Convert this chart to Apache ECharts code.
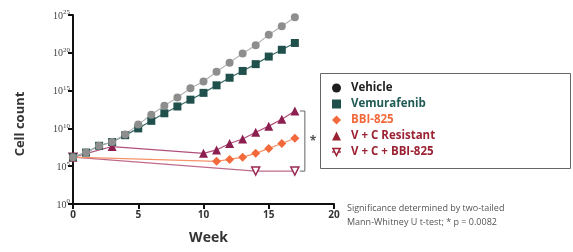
<!DOCTYPE html>
<html>
<head>
<meta charset="utf-8">
<script src="https://cdn.jsdelivr.net/npm/echarts@6/dist/echarts.min.js"></script>
<style>
  html, body { margin: 0; padding: 0; background: #fff; }
  #chart { width: 573px; height: 252px; }
</style>
</head>
<body>
<div id="chart"></div>
<script>
// values are log10(cell count)
const vehicleWeeks = [0, 1, 2, 3, 4, 5, 6, 7, 8, 9, 10, 11, 12, 13, 14, 15, 16, 17];
const vehicleExp = [6.2, 6.8, 7.7, 8.2, 9.2, 10.5, 11.8, 13.0, 14.1, 15.3, 16.2, 17.5, 18.7, 19.9, 21.0, 22.4, 23.5, 24.7];
const vemWeeks = [0, 1, 2, 3, 4, 5, 6, 7, 8, 9, 10, 11, 12, 13, 14, 15, 16, 17];
const vemExp = [6.2, 6.8, 7.7, 8.2, 9.1, 10.0, 11.0, 12.0, 12.9, 13.8, 14.7, 15.7, 16.7, 17.6, 18.5, 19.5, 20.4, 21.3];
const bbiWeeks = [0, 11, 12, 13, 14, 15, 16, 17];
const bbiExp = [6.2, 5.65, 5.9, 6.2, 6.7, 7.35, 8.0, 8.7];
const vcResWeeks = [0, 3, 10, 11, 12, 13, 14, 15, 16, 17];
const vcResExp = [6.2, 7.6, 6.7, 7.15, 8.0, 8.6, 9.5, 10.3, 11.2, 12.3];
const vcBbiWeeks = [0, 14, 17];
const vcBbiExp = [6.2, 4.35, 4.35];
const yTicks = [0, 5, 10, 15, 20, 25];

const pairs = (xs, ys) => xs.map((x, i) => [x, ys[i]]);

const myChart = echarts.init(document.getElementById('chart'));
const FONT = 'Open Sans';

const options = {
  animation: false,
  textStyle: { fontFamily: FONT },
  grid: { left: 73, right: 239, top: 15, bottom: 48 },
  legend: {
    orient: 'vertical',
    left: 326,
    top: 77,
    itemWidth: 9,
    itemHeight: 9,
    itemGap: 4,
    textStyle: { fontFamily: FONT, fontSize: 11.5, fontWeight: 'bold', padding: [0, 0, 0, 5] },
    data: [
      { name: 'Vehicle', icon: 'circle', itemStyle: { color: '#1e1e1e' }, textStyle: { color: '#1e1e1e' } },
      { name: 'Vemurafenib', icon: 'rect', itemStyle: { color: '#1f504c' }, textStyle: { color: '#1f5a55' } },
      { name: 'BBI-825', icon: 'diamond', itemStyle: { color: '#f26a3c' }, textStyle: { color: '#f26a3c' } },
      { name: 'V + C Resistant', icon: 'triangle', itemStyle: { color: '#9a2233' }, textStyle: { color: '#9a2233' } },
      { name: 'V + C + BBI-825', itemStyle: { color: '#fff', borderColor: '#9a2233', borderWidth: 1.5 }, textStyle: { color: '#9a2233' } }
    ]
  },
  xAxis: {
    type: 'value',
    min: 0,
    max: 20,
    interval: 5,
    name: 'Week',
    nameLocation: 'middle',
    nameGap: 27,
    nameTextStyle: { fontFamily: FONT, fontSize: 14, fontWeight: 'bold', color: '#333', padding: [0, 0, 0, 10] },
    splitLine: { show: false },
    axisLine: { lineStyle: { color: '#111', width: 2 } },
    axisTick: { length: 5, lineStyle: { color: '#111', width: 2 } },
    axisLabel: { fontFamily: FONT, fontSize: 10, fontWeight: 'bold', color: '#333', margin: 6 }
  },
  yAxis: {
    type: 'value',
    min: 0,
    max: 25,
    interval: 5,
    splitLine: { show: false },
    axisLine: { show: true, lineStyle: { color: '#111', width: 2 } },
    axisTick: { show: true, length: 5, lineStyle: { color: '#111', width: 2 } },
    axisLabel: {
      margin: 3,
      formatter: v => yTicks.includes(v) ? '{b|10}{s|' + v + '}' : '',
      rich: {
        b: { fontFamily: 'Liberation Serif', fontSize: 10, color: '#444', verticalAlign: 'bottom' },
        s: { fontFamily: 'Liberation Serif', fontSize: 7, color: '#444', verticalAlign: 'top', padding: [0, 0, 5, 0] }
      }
    }
  },
  series: [
    {
      name: 'V + C + BBI-825',
      type: 'line',
      data: pairs(vcBbiWeeks, vcBbiExp),
      symbol: 'triangle',
      symbolRotate: 180,
      symbolSize: 8,
      showAllSymbol: true,
      itemStyle: { color: '#fff', borderColor: '#9a2a55', borderWidth: 1.5 },
      lineStyle: { color: '#c06a8c', width: 1.2 }
    },
    {
      name: 'BBI-825',
      type: 'line',
      data: pairs(bbiWeeks, bbiExp),
      symbol: 'diamond',
      symbolSize: 9,
      itemStyle: { color: '#f26a3c' },
      lineStyle: { color: '#f6936a', width: 1.2 }
    },
    {
      name: 'V + C Resistant',
      type: 'line',
      data: pairs(vcResWeeks, vcResExp),
      symbol: 'triangle',
      symbolSize: 9,
      itemStyle: { color: '#8c1f4f' },
      lineStyle: { color: '#b0507a', width: 1.2 }
    },
    {
      name: 'Vemurafenib',
      type: 'line',
      data: pairs(vemWeeks, vemExp),
      symbol: 'rect',
      symbolSize: 8,
      itemStyle: { color: '#1f504c' },
      lineStyle: { color: '#3d6a66', width: 1.2 }
    },
    {
      name: 'Vehicle',
      type: 'line',
      data: pairs(vehicleWeeks, vehicleExp),
      symbol: 'circle',
      symbolSize: 8,
      itemStyle: { color: '#8e8e8e' },
      lineStyle: { color: '#b4b4b4', width: 1.2 }
    }
  ]
};

options && myChart.setOption(options);

// bracket + star between the two V + C groups at week 17, plus notes
const bracketTop = myChart.convertToPixel({ gridIndex: 0 }, [17, vcResExp[vcResExp.length - 1]]);
const bracketBot = myChart.convertToPixel({ gridIndex: 0 }, [17, vcBbiExp[vcBbiExp.length - 1]]);
const bx = bracketTop[0] + 10;
myChart.setOption({
  graphic: [
    {
      type: 'polyline',
      shape: { points: [[bx - 5, bracketTop[1]], [bx, bracketTop[1]], [bx, bracketBot[1]], [bx - 5, bracketBot[1]]] },
      style: { stroke: '#666', lineWidth: 1, fill: null }
    },
    {
      type: 'text', left: bx + 5, top: (bracketTop[1] + bracketBot[1]) / 2 - 5,
      style: { text: '*', font: 'bold 12px "Open Sans"', fill: '#555' }
    },
    {
      type: 'rect',
      shape: { x: 320.5, y: 73.5, width: 250, height: 95 },
      style: { stroke: '#666', lineWidth: 1, fill: null }
    },
    {
      type: 'text', x: 20, y: 124, rotation: Math.PI / 2,
      style: { text: 'Cell count', font: 'bold 13px "Open Sans"', fill: '#333', align: 'center', verticalAlign: 'middle' }
    },
    {
      type: 'text', left: 347, top: 201,
      style: {
        text: 'Significance determined by two-tailed\nMann-Whitney U t-test; * p = 0.0082',
        font: '9px "Open Sans"', fill: '#555', lineHeight: 14
      }
    }
  ]
});
</script>
</body>
</html>
